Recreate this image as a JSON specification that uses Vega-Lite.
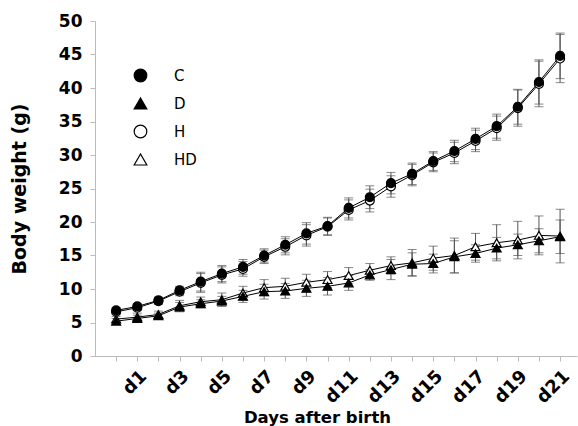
{
  "$schema": "https://vega.github.io/schema/vega-lite/v6.json",
  "width": 482,
  "height": 335,
  "autosize": "none",
  "padding": {"left": 95, "top": 21, "right": 1, "bottom": 70},
  "background": "white",
  "config": {
    "view": {"stroke": null},
    "font": "DejaVu Sans",
    "axisY": {"labelOverlap": false},
    "legend": {
      "title": null,
      "orient": "none",
      "legendX": 38,
      "legendY": 47,
      "padding": 0,
      "symbolSize": 160,
      "symbolStrokeWidth": 1.2,
      "labelFont": "DejaVu Sans",
      "labelFontSize": 15,
      "labelColor": "black",
      "labelOffset": 26,
      "rowPadding": 10
    }
  },
  "data": {
    "values": [
      {"day": 0, "group": "H", "mean": 6.6, "err": 0.4},
      {"day": 1, "group": "H", "mean": 7.2, "err": 0.4},
      {"day": 2, "group": "H", "mean": 8.2, "err": 0.5},
      {"day": 3, "group": "H", "mean": 9.6, "err": 0.6},
      {"day": 4, "group": "H", "mean": 10.9, "err": 1.4},
      {"day": 5, "group": "H", "mean": 12.1, "err": 1.2},
      {"day": 6, "group": "H", "mean": 13.0, "err": 1.1},
      {"day": 7, "group": "H", "mean": 14.8, "err": 1.0},
      {"day": 8, "group": "H", "mean": 16.3, "err": 1.2},
      {"day": 9, "group": "H", "mean": 18.0, "err": 1.6},
      {"day": 10, "group": "H", "mean": 19.3, "err": 1.3},
      {"day": 11, "group": "H", "mean": 21.8, "err": 1.5},
      {"day": 12, "group": "H", "mean": 23.2, "err": 1.7},
      {"day": 13, "group": "H", "mean": 25.3, "err": 1.6},
      {"day": 14, "group": "H", "mean": 27.0, "err": 1.6},
      {"day": 15, "group": "H", "mean": 28.9, "err": 1.4},
      {"day": 16, "group": "H", "mean": 30.3, "err": 1.6},
      {"day": 17, "group": "H", "mean": 32.1, "err": 1.6},
      {"day": 18, "group": "H", "mean": 34.0, "err": 1.8},
      {"day": 19, "group": "H", "mean": 37.0, "err": 2.7},
      {"day": 20, "group": "H", "mean": 40.6, "err": 3.4},
      {"day": 21, "group": "H", "mean": 44.4, "err": 3.6},
      {"day": 0, "group": "HD", "mean": 5.5, "err": 0.4},
      {"day": 1, "group": "HD", "mean": 5.8, "err": 0.6},
      {"day": 2, "group": "HD", "mean": 6.2, "err": 0.5},
      {"day": 3, "group": "HD", "mean": 7.5, "err": 0.8},
      {"day": 4, "group": "HD", "mean": 8.1, "err": 0.7},
      {"day": 5, "group": "HD", "mean": 8.4, "err": 1.0},
      {"day": 6, "group": "HD", "mean": 9.4, "err": 1.0},
      {"day": 7, "group": "HD", "mean": 10.2, "err": 1.2},
      {"day": 8, "group": "HD", "mean": 10.4, "err": 1.2},
      {"day": 9, "group": "HD", "mean": 11.0, "err": 1.2},
      {"day": 10, "group": "HD", "mean": 11.4, "err": 1.2},
      {"day": 11, "group": "HD", "mean": 12.0, "err": 1.2},
      {"day": 12, "group": "HD", "mean": 12.8, "err": 1.0},
      {"day": 13, "group": "HD", "mean": 13.5, "err": 1.3},
      {"day": 14, "group": "HD", "mean": 13.9, "err": 2.0},
      {"day": 15, "group": "HD", "mean": 14.6, "err": 1.8},
      {"day": 16, "group": "HD", "mean": 15.0, "err": 2.6},
      {"day": 17, "group": "HD", "mean": 16.3, "err": 2.0},
      {"day": 18, "group": "HD", "mean": 16.9, "err": 2.7},
      {"day": 19, "group": "HD", "mean": 17.3, "err": 2.8},
      {"day": 20, "group": "HD", "mean": 18.0, "err": 2.9},
      {"day": 21, "group": "HD", "mean": 17.9, "err": 4.0},
      {"day": 0, "group": "C", "mean": 6.8, "err": 0.4},
      {"day": 1, "group": "C", "mean": 7.4, "err": 0.4},
      {"day": 2, "group": "C", "mean": 8.3, "err": 0.5},
      {"day": 3, "group": "C", "mean": 9.8, "err": 0.6},
      {"day": 4, "group": "C", "mean": 11.1, "err": 1.4},
      {"day": 5, "group": "C", "mean": 12.3, "err": 1.2},
      {"day": 6, "group": "C", "mean": 13.3, "err": 1.1},
      {"day": 7, "group": "C", "mean": 15.0, "err": 1.0},
      {"day": 8, "group": "C", "mean": 16.6, "err": 1.2},
      {"day": 9, "group": "C", "mean": 18.3, "err": 1.6},
      {"day": 10, "group": "C", "mean": 19.4, "err": 1.3},
      {"day": 11, "group": "C", "mean": 22.1, "err": 1.5},
      {"day": 12, "group": "C", "mean": 23.7, "err": 1.7},
      {"day": 13, "group": "C", "mean": 25.8, "err": 1.6},
      {"day": 14, "group": "C", "mean": 27.2, "err": 1.6},
      {"day": 15, "group": "C", "mean": 29.1, "err": 1.4},
      {"day": 16, "group": "C", "mean": 30.6, "err": 1.6},
      {"day": 17, "group": "C", "mean": 32.4, "err": 1.6},
      {"day": 18, "group": "C", "mean": 34.3, "err": 1.8},
      {"day": 19, "group": "C", "mean": 37.2, "err": 2.6},
      {"day": 20, "group": "C", "mean": 40.9, "err": 3.3},
      {"day": 21, "group": "C", "mean": 44.8, "err": 3.4},
      {"day": 0, "group": "D", "mean": 5.2, "err": 0.4},
      {"day": 1, "group": "D", "mean": 5.6, "err": 0.5},
      {"day": 2, "group": "D", "mean": 6.0, "err": 0.4},
      {"day": 3, "group": "D", "mean": 7.3, "err": 0.7},
      {"day": 4, "group": "D", "mean": 7.8, "err": 0.6},
      {"day": 5, "group": "D", "mean": 8.2, "err": 0.7},
      {"day": 6, "group": "D", "mean": 8.9, "err": 0.9},
      {"day": 7, "group": "D", "mean": 9.6, "err": 1.1},
      {"day": 8, "group": "D", "mean": 9.7, "err": 1.1},
      {"day": 9, "group": "D", "mean": 10.1, "err": 1.2},
      {"day": 10, "group": "D", "mean": 10.4, "err": 1.3},
      {"day": 11, "group": "D", "mean": 10.9, "err": 1.1},
      {"day": 12, "group": "D", "mean": 12.1, "err": 0.8},
      {"day": 13, "group": "D", "mean": 12.9, "err": 1.5},
      {"day": 14, "group": "D", "mean": 13.7, "err": 1.7},
      {"day": 15, "group": "D", "mean": 13.8, "err": 1.4},
      {"day": 16, "group": "D", "mean": 14.8, "err": 2.4},
      {"day": 17, "group": "D", "mean": 15.3, "err": 1.3},
      {"day": 18, "group": "D", "mean": 16.1, "err": 1.6},
      {"day": 19, "group": "D", "mean": 16.6, "err": 1.6},
      {"day": 20, "group": "D", "mean": 17.2, "err": 1.8},
      {"day": 21, "group": "D", "mean": 17.8, "err": 2.5}
    ]
  },
  "encoding": {
    "x": {
      "field": "day",
      "type": "quantitative",
      "scale": {"domain": [-1, 21.8], "nice": false, "zero": false},
      "axis": {
        "values": [0,1,2,3,4,5,6,7,8,9,10,11,12,13,14,15,16,17,18,19,20,21],
        "labelExpr": "datum.value % 2 == 1 ? 'd' + datum.value : ''",
        "labelAngle": -45,
        "labelFont": "DejaVu Sans",
        "labelFontWeight": "bold",
        "labelFontSize": 18,
        "labelColor": "black",
        "labelPadding": 6,
        "labelOverlap": false,
        "tickSize": 5,
        "tickColor": "#bbbbbb",
        "domainColor": "#bbbbbb",
        "grid": false,
        "title": "Days after birth",
        "titleFont": "DejaVu Sans",
        "titleFontSize": 16.5,
        "titleFontWeight": "bold",
        "titleColor": "black",
        "titleX": 222,
        "titleY": 66,
        "titleAlign": "center",
        "titleBaseline": "alphabetic"
      }
    },
    "y": {
      "field": "mean",
      "type": "quantitative",
      "scale": {"domain": [0, 50], "nice": false},
      "axis": {
        "values": [0,5,10,15,20,25,30,35,40,45,50],
        "labelOverlap": false,
        "labelFont": "DejaVu Sans",
        "labelFontWeight": "bold",
        "labelFontSize": 17,
        "labelColor": "black",
        "labelPadding": 8,
        "tickSize": 5,
        "tickColor": "#bbbbbb",
        "domainColor": "#bbbbbb",
        "grid": false,
        "title": "Body weight (g)",
        "titleFont": "DejaVu Sans",
        "titleFontSize": 19,
        "titleFontWeight": "bold",
        "titleColor": "black",
        "titlePadding": 29
      }
    }
  },
  "layer": [
    {
      "mark": {"type": "errorbar", "ticks": {"size": 9, "color": "#555555"}, "rule": {"color": "#555555", "strokeWidth": 1}},
      "encoding": {
        "yError": {"field": "err"},
        "detail": {"field": "group"}
      }
    },
    {
      "mark": {"type": "line", "color": "black", "strokeWidth": 1},
      "encoding": {
        "detail": {"field": "group"}
      }
    },
    {
      "transform": [{"filter": "datum.group == 'H' || datum.group == 'HD'"}],
      "mark": {"type": "point", "filled": true, "size": 80, "strokeWidth": 1.2, "opacity": 1},
      "encoding": {
        "shape": {
          "field": "group",
          "type": "nominal",
          "scale": {"domain": ["C", "D", "H", "HD"], "range": ["circle", "triangle-up", "circle", "triangle-up"]}
        },
        "fill": {
          "field": "group",
          "type": "nominal",
          "scale": {"domain": ["C", "D", "H", "HD"], "range": ["black", "black", "white", "white"]}
        },
        "stroke": {
          "field": "group",
          "type": "nominal",
          "scale": {"domain": ["C", "D", "H", "HD"], "range": ["black", "black", "black", "black"]}
        }
      }
    },
    {
      "transform": [{"filter": "datum.group == 'C' || datum.group == 'D'"}],
      "mark": {"type": "point", "filled": true, "size": 80, "strokeWidth": 1.2, "opacity": 1},
      "encoding": {
        "shape": {
          "field": "group",
          "type": "nominal",
          "scale": {"domain": ["C", "D", "H", "HD"], "range": ["circle", "triangle-up", "circle", "triangle-up"]}
        },
        "fill": {
          "field": "group",
          "type": "nominal",
          "scale": {"domain": ["C", "D", "H", "HD"], "range": ["black", "black", "white", "white"]}
        },
        "stroke": {
          "field": "group",
          "type": "nominal",
          "scale": {"domain": ["C", "D", "H", "HD"], "range": ["black", "black", "black", "black"]}
        }
      }
    }
  ]
}
